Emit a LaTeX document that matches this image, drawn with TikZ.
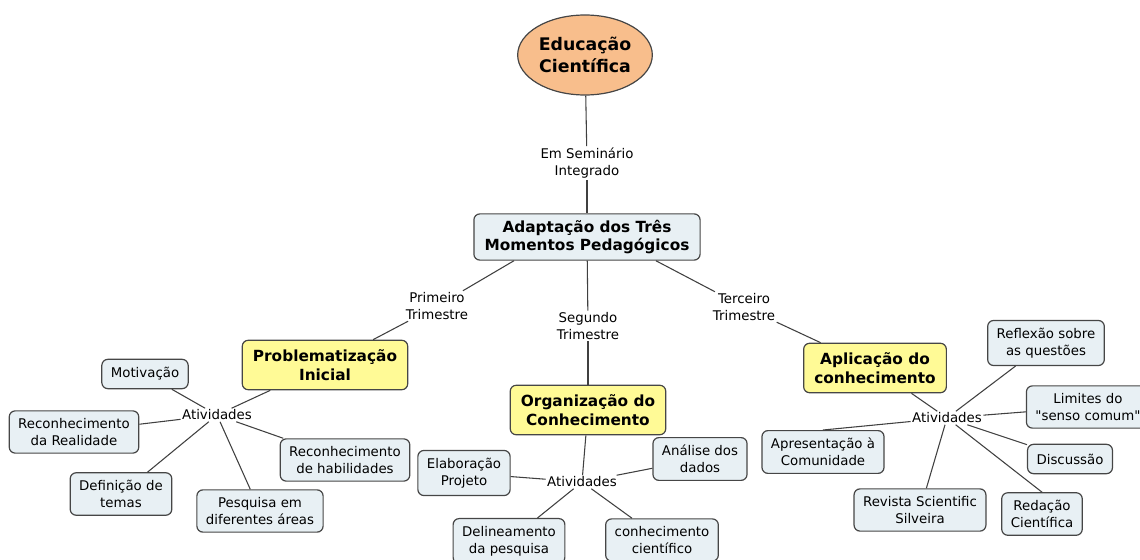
\documentclass[tikz,border=0pt]{standalone}
\usepackage{fontspec}
\setmainfont{DejaVu Sans}[Ligatures=TeXOff]
\usepackage{xcolor}
\usepackage{tikz}
\usetikzlibrary{shapes.geometric}

\definecolor{rootfill}{RGB}{248,190,140}
\definecolor{phasefill}{RGB}{255,250,150}
\definecolor{leaffill}{RGB}{232,240,244}
\definecolor{edgegray}{RGB}{70,70,70}

\begin{document}
\begin{tikzpicture}[x=0.75pt,y=-0.75pt,
    leaf/.style={draw=edgegray, line width=0.9pt, fill=leaffill, rounded corners=4.5pt, align=center, inner xsep=6.75pt, inner ysep=5.6pt, minimum height=22pt, font=\fontsize{10}{12.75}\selectfont},
    phase/.style={leaf, fill=phasefill, inner xsep=8pt, inner ysep=7pt, font=\fontsize{11.5}{14}\selectfont\bfseries},
    hub/.style={phase, fill=leaffill, inner ysep=4.5pt},
    root/.style={ellipse, draw=edgegray, line width=0.9pt, fill=rootfill, align=center, minimum width=101pt, minimum height=60pt, inner sep=1pt, font=\fontsize{13}{16.5}\selectfont\bfseries},
    link/.style={align=center, inner sep=1pt, font=\fontsize{10}{12.75}\selectfont},
    conn/.style={draw=black!75, line width=0.8pt}]
                \useasboundingbox (0,0) rectangle (1140,560);

                % Root and hub
                \node[root] (root) at (585,55) {Educação\\Científica};
                \node[hub] (adapt) at (587,237) {Adaptação dos Três\\Momentos Pedagógicos};
                \node[link] (sem) at (587,163) {Em Seminário\\Integrado};
                \draw[conn] (root) -- (sem);
                \draw[conn] (sem) -- (adapt);

                % Three moments
                \node[link] (prim) at (437,306) {Primeiro\\Trimestre};
                \node[link] (seg) at (588,326) {Segundo\\Trimestre};
                \node[link] (terc) at (744,307) {Terceiro\\Trimestre};
                \node[phase] (prob) at (325,365) {Problematização\\Inicial};
                \node[phase] (org) at (588,410) {Organização do\\Conhecimento};
                \node[phase] (apl) at (875,368) {Aplicação do\\conhecimento};
                \draw[conn] (adapt.198) -- (prim);
                \draw[conn] (prim) -- (prob);
                \draw[conn] (adapt) -- (seg);
                \draw[conn] (seg) -- (org);
                \draw[conn] (adapt.-19) -- (terc);
                \draw[conn] (terc) -- (apl);

                % Problematizacao: activities
                \node[link] (atvA) at (217,415) {Atividades};
                \node[leaf] (motiv) at (145,374) {Motivação};
                \node[leaf] (realid) at (74,432) {Reconhecimento\\da Realidade};
                \node[leaf] (temas) at (121,494) {Definição de\\temas};
                \node[leaf] (areas) at (260,511) {Pesquisa em\\diferentes áreas};
                \node[leaf] (habil) at (345,460) {Reconhecimento\\de habilidades};
                \draw[conn] (prob) -- (atvA);
                \foreach \leafname in {motiv,realid,temas,areas,habil}
                    \draw[conn] (atvA) -- (\leafname);

                % Organizacao: activities
                \node[link] (atvB) at (582,482) {Atividades};
                \node[leaf] (elab) at (464,473) {Elaboração\\Projeto};
                \node[leaf] (analise) at (700,459) {Análise dos\\dados};
                \node[leaf] (delin) at (509,541) {Delineamento\\da pesquisa};
                \node[leaf] (cient) at (662,540) {conhecimento\\científico};
                \draw[conn] (org) -- (atvB);
                \foreach \leafname in {elab,analise,delin,cient}
                    \draw[conn] (atvB) -- (\leafname);

                % Aplicacao: activities
                \node[link] (atvC) at (947,418) {Atividades};
                \node[leaf] (reflex) at (1046,343) {Reflexão sobre\\as questões};
                \node[leaf] (limites) at (1088,407) {Limites do\\"senso comum"};
                \node[leaf] (discus) at (1070,459) {Discussão};
                \node[leaf] (redac) at (1042,514) {Redação\\Científica};
                \node[leaf] (revista) at (920,510) {Revista Scientific\\Silveira};
                \node[leaf] (apres) at (823,452) {Apresentação à\\Comunidade};
                \draw[conn] (apl) -- (atvC);
                \foreach \leafname in {reflex,limites,discus,revista}
                    \draw[conn] (atvC) -- (\leafname);
                \draw[conn] (atvC) -- (redac.north);
                \draw[conn] (atvC) -- (apres.north);
\end{tikzpicture}
\end{document}
